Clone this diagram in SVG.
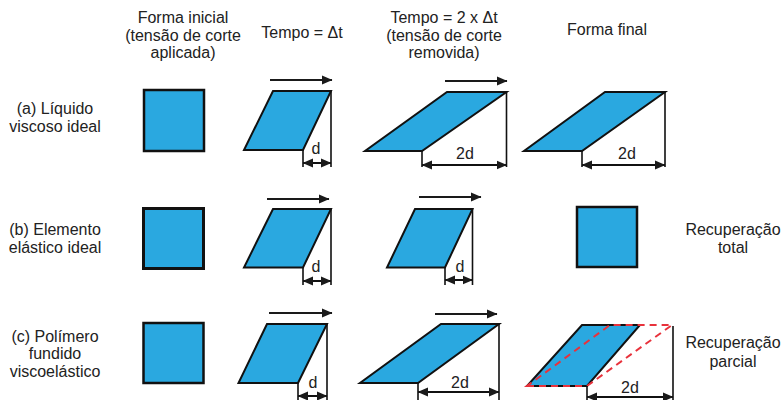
<svg xmlns="http://www.w3.org/2000/svg" width="781" height="400" viewBox="0 0 781 400">
<defs>
<marker id="ah" markerUnits="userSpaceOnUse" markerWidth="11" markerHeight="10" refX="10" refY="5" orient="auto-start-reverse">
<path d="M0,0.5 L10.5,5 L0,9.5 z" fill="#1a1a1a"/>
</marker>
<style>
text{font-family:"Liberation Sans",Arial,sans-serif;font-size:16px;fill:#222;text-anchor:middle}
.sq{fill:#2AA8E0;stroke:#111;stroke-width:2.5}
.pg{fill:#2AA8E0;stroke:#111;stroke-width:2;stroke-linejoin:miter}
.vl{stroke:#111;stroke-width:1.6;fill:none}
.ar{stroke:#1a1a1a;stroke-width:2;fill:none;marker-end:url(#ah)}
.dm{stroke:#111;stroke-width:2;fill:none;marker-start:url(#ah);marker-end:url(#ah)}
.rd{fill:none;stroke:#E8323C;stroke-width:2;stroke-dasharray:7 5}
</style>
</defs>
<rect width="781" height="400" fill="#fff"/>
<g id="headers">
<text x="183" y="23">Forma inicial</text>
<text x="183" y="40.5">(tensão de corte</text>
<text x="183" y="58">aplicada)</text>
<text x="302" y="38">Tempo = Δt</text>
<text x="444" y="23">Tempo = 2 x Δt</text>
<text x="444" y="40.5">(tensão de corte</text>
<text x="444" y="58">removida)</text>
<text x="607" y="35">Forma final</text>
</g>
<g id="row-labels">
<text x="55" y="114">(a) Líquido</text>
<text x="55" y="132">viscoso ideal</text>
<text x="55" y="235">(b) Elemento</text>
<text x="55" y="253">elástico ideal</text>
<text x="55" y="342">(c) Polímero</text>
<text x="55" y="359">fundido</text>
<text x="55" y="377">viscoelástico</text>
<text x="733" y="235">Recuperação</text>
<text x="733" y="253">total</text>
<text x="733" y="348">Recuperação</text>
<text x="733" y="367">parcial</text>
</g>
<g id="a0"><rect class="sq" x="144" y="90" width="60" height="61"/></g>
<g id="a1">
<polygon class="pg" points="244,150 303,150 331,91 273,91"/>
<path class="vl" d="M331,91 V167 M303,150 V167"/>
<text x="316" y="154">d</text>
</g>
<g id="a2">
<polygon class="pg" points="365,151 422,151 506.5,92 447,92"/>
<path class="vl" d="M506.5,92 V167 M422,151 V167"/>
<text x="465" y="159">2d</text>
</g>
<g id="a3">
<polygon class="pg" points="524,151 582,151 665,92 605,92"/>
<path class="vl" d="M665,92 V167 M582,151 V167"/>
<text x="627" y="159">2d</text>
</g>
<g id="b0"><rect class="sq" x="143.5" y="208.5" width="60" height="60" style="stroke-width:3"/></g>
<g id="b1">
<polygon class="pg" points="244,267.5 303,267.5 331,209 273,209"/>
<path class="vl" d="M331,209 V285 M303,267.5 V285"/>
<text x="316" y="272">d</text>
</g>
<g id="b2">
<polygon class="pg" points="387,267.5 445,267.5 472.5,209 415,209"/>
<path class="vl" d="M472.5,209 V285 M445,267.5 V285"/>
<text x="460" y="272">d</text>
</g>
<g id="b3"><rect class="sq" x="577" y="207" width="60" height="60"/></g>
<g id="c0"><rect class="sq" x="143.5" y="323" width="60" height="60"/></g>
<g id="c1">
<polygon class="pg" points="238.5,383 298,383 327,324 267,324"/>
<path class="vl" d="M327,324 V400 M298,383 V400"/>
<text x="313" y="387.5">d</text>
</g>
<g id="c2">
<polygon class="pg" points="360,383 418,383 499,324 441,324"/>
<path class="vl" d="M499,324 V400 M418,383 V400"/>
<text x="460" y="387.5">2d</text>
</g>
<g id="c3">
<polygon class="pg" points="527,386 587,386 640,325 582,325"/>
<polygon class="rd" points="527,386 587,386 672,325 610,325"/>
<path class="vl" d="M673,326 V400 M587,386 V400"/>
<text x="630" y="392.5">2d</text>
</g>
<g id="connectors">
<line class="ar" x1="270" y1="80" x2="332" y2="80"/>
<line class="ar" x1="445" y1="81" x2="507" y2="81"/>
<line class="ar" x1="267" y1="199" x2="329" y2="199"/>
<line class="ar" x1="419" y1="197" x2="481" y2="197"/>
<line class="ar" x1="269" y1="313" x2="332" y2="313"/>
<line class="ar" x1="435" y1="314" x2="497" y2="314"/>
<line class="dm" x1="303" y1="163" x2="331" y2="163"/>
<line class="dm" x1="422" y1="165" x2="506.5" y2="165"/>
<line class="dm" x1="582" y1="165" x2="665" y2="165"/>
<line class="dm" x1="303" y1="281" x2="331" y2="281"/>
<line class="dm" x1="445" y1="280" x2="472.5" y2="280"/>
<line class="dm" x1="298" y1="396" x2="327" y2="396"/>
<line class="dm" x1="418" y1="392" x2="499" y2="392"/>
<line class="dm" x1="587" y1="397" x2="673" y2="397"/>
</g>
</svg>
